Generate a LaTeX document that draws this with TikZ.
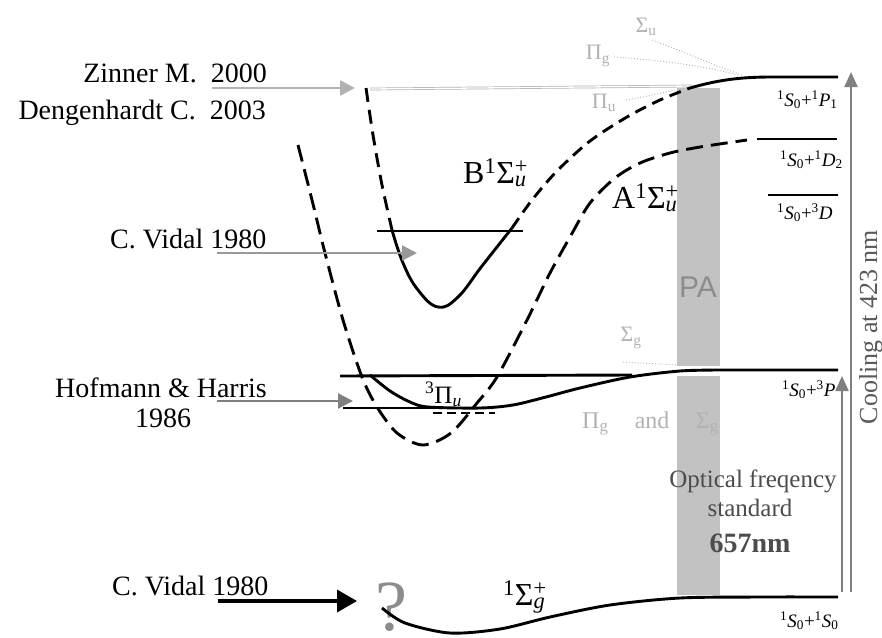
\documentclass[tikz,border=0pt]{standalone}
\usepackage{fontspec}
\setmainfont{Liberation Serif}
\newfontfamily\sansf{Liberation Sans}
\usetikzlibrary{arrows.meta}
\newcommand\sps[2]{\rlap{\textsuperscript{#1}}\textsubscript{#2}}
\begin{document}
\begin{tikzpicture}[x=1pt,y=-1pt,
  curve/.style={line width=2.9pt},
  dashA/.style={curve,dash pattern=on 17pt off 8pt},
  dashB/.style={curve,dash pattern=on 12pt off 7pt},
  faint/.style={text=black!30,inner sep=0pt,font=\fontsize{22}{24}\selectfont},
  fdot/.style={draw=black!30,line width=0.9pt,dash pattern=on 0.9pt off 2pt},
  refname/.style={inner sep=0pt,font=\fontsize{28}{34}\selectfont},
  lvl/.style={inner sep=0pt,anchor=base west,font=\fontsize{19}{22}\selectfont},
  big/.style={inner sep=0pt,anchor=base west,font=\fontsize{32}{36}\selectfont},
  varrow/.style={draw=black!50,line width=2.2pt,-{Triangle[length=15pt,width=13pt]}},
  garrow/.style={line width=2.4pt,-{Triangle[length=15pt,width=15pt]}}]
\useasboundingbox (0,0) rectangle (882,637);
\fill[white] (0,0) rectangle (882,637);

% PA band
\fill[black!24] (677,88) rectangle (720,595);
\node[font=\sansf\fontsize{30}{30}\selectfont,text=black!45,inner sep=0pt] (pa) at (698,287) {PA};

% faint labels and dotted curves
\node[faint] (sgtop) at (646,27) {Σ\textsubscript{u}};
\node[faint] (pgtop) at (598,56) {Π\textsubscript{g}};
\node[faint] (putop) at (604,103) {Π\textsubscript{u}};
\draw[fdot] (652,40) .. controls (685,52) and (715,66) .. (742,75);
\draw[fdot] (614,57) .. controls (660,60) and (705,66) .. (738,75);
\draw[fdot] (626,100) .. controls (650,96) and (675,90) .. (692,86);
\draw[black!30,double=white,double distance=1.3pt,line width=0.7pt] (370,89) -- (692,86);
\node[faint] (sgmid) at (631,338) {Σ\textsubscript{g}};
\draw[fdot] (623,362) -- (677,365);
\node[faint,anchor=base west,font=\fontsize{24}{26}\selectfont] (pgand) at (582,428) {Π\textsubscript{g}\hspace{1.1em}and\hspace{1.1em}Σ\textsubscript{g}};

% B state
\draw[curve,dash pattern=on 14pt off 8pt] plot[smooth] coordinates {(366,88) (373,135) (382,185) (392,230)};
\draw[curve] plot[smooth,tension=0.7] coordinates {(392,230) (403,263) (418,290) (438,307) (458,297) (482,266) (512,228)};
\draw[dashB] plot[smooth] coordinates {(512,228) (532,200) (557,171) (590,141) (627,117) (660,100) (690,88)};
\draw[curve] (690,88) .. controls (718,80) and (740,77) .. (772,77) -- (838,77);
\draw[curve] (377,231) -- (523,231);
\node[big] (blab) at (463,183) {B\textsuperscript{1}Σ\sps{+}{\textit{u}}};

% A state
\draw[dashA] plot[smooth] coordinates {(298,145) (312,200) (325,253) (343,320) (362,377) (377,407) (397,433) (423,445) (451,433) (477,403) (497,377) (527,320) (550,273) (570,237) (590,203) (615,178) (640,163) (670,153) (700,147) (747,140)};
\draw[curve] (757,139) -- (837,139);
\node[big] (alab) at (612,208) {A\textsuperscript{1}Σ\sps{+}{\textit{u}}};

% 1S0+3D
\draw[curve] (768,195) -- (838,195);

% 3Pi_u
\draw[white,line width=10pt] (676,371) -- (721,371);
\draw[curve] (340,376) -- (632,375);
\draw[curve] (343,408) -- (470,408);
\draw[curve] plot[smooth] coordinates {(370,375) (390,391) (410,402) (428,407) (480,408) (513,405) (546,397) (580,388) (630,377) (680,371) (720,370)} -- (838,370);
\draw[curve,dash pattern=on 9pt off 5pt] (433,413) -- (495,413);
\node[inner sep=0pt,anchor=base west,font=\fontsize{25}{28}\selectfont] (pilab) at (425,403) {\textsuperscript{3}Π\textsubscript{\textit{u}}};

% ground state
\node[inner sep=0pt,anchor=base,text=black!45,font=\fontsize{72}{72}\selectfont] (qm) at (391,630) {?};
\draw[curve] plot[smooth] coordinates {(382,608) (405,623) (450,633) (500,629) (550,617) (610,605) (680,598) (760,597) (838,597)};
\node[big] (sglab) at (503,605) {\textsuperscript{1}Σ\sps{+}{\textit{g}}};

% asymptote labels
\node[lvl] (l1p) at (777,106) {\textsuperscript{1}\textit{S}\textsubscript{0}+\textsuperscript{1}\textit{P}\textsubscript{1}};
\node[lvl] (l1d) at (780,166) {\textsuperscript{1}\textit{S}\textsubscript{0}+\textsuperscript{1}\textit{D}\textsubscript{2}};
\node[lvl] (l3d) at (777,219) {\textsuperscript{1}\textit{S}\textsubscript{0}+\textsuperscript{3}\textit{D}};
\node[lvl] (l3p) at (782,396) {\textsuperscript{1}\textit{S}\textsubscript{0}+\textsuperscript{3}\textit{P}};
\node[lvl] (l1s) at (780,627) {\textsuperscript{1}\textit{S}\textsubscript{0}+\textsuperscript{1}\textit{S}\textsubscript{0}};

% vertical arrows
\coordinate (vb1) at (842,592); \coordinate (vt1) at (842,376);
\coordinate (vb2) at (851,592); \coordinate (vt2) at (851,72);
\draw[varrow] (vb1) -- (vt1);
\draw[varrow] (vb2) -- (vt2);
\node[rotate=90,inner sep=0pt,text=black!65,font=\fontsize{26}{28}\selectfont] (cool) at (871,327) {Cooling at 423 nm};

% optical frequency standard
\node[inner sep=0pt,anchor=base,text=black!70,font=\fontsize{25}{28}\selectfont] (opt1) at (753,487) {Optical freqency};
\node[inner sep=0pt,anchor=base,text=black!70,font=\fontsize{25}{28}\selectfont] (opt2) at (750,516) {standard};
\node[inner sep=0pt,anchor=base,text=black!70,font=\bfseries\fontsize{28}{30}\selectfont] (opt3) at (750,552) {657nm};

% references
\node[refname,anchor=base east] (zin) at (267,82) {Zinner M.\ \ 2000};
\node[refname,anchor=base east] (deg) at (266,119) {Dengenhardt C.\ \ 2003};
\node[refname,anchor=base west] (vid1) at (110,248) {C. Vidal 1980};
\node[refname,anchor=base] (hof1) at (161,397) {Hofmann \& Harris};
\node[refname,anchor=base] (hof2) at (163,427) {1986};
\node[refname,anchor=base west] (vid2) at (112,595) {C. Vidal 1980};

\coordinate (za) at (212,88); \coordinate (zb) at (355,88);
\coordinate (va) at (217,253); \coordinate (vb) at (417,253);
\coordinate (ha) at (217,401); \coordinate (hb) at (353,401);
\coordinate (wa) at (218,601); \coordinate (wb) at (357,601);
\draw[garrow,draw=black!30,fill=black!25] (za) -- (zb);
\draw[garrow,draw=black!40,fill=black!40] (va) -- (vb);
\draw[garrow,draw=black!50,fill=black!55] (ha) -- (hb);
\draw[line width=3.6pt,-{Triangle[length=20pt,width=22pt]}] (wa) -- (wb);
\end{tikzpicture}
\end{document}
